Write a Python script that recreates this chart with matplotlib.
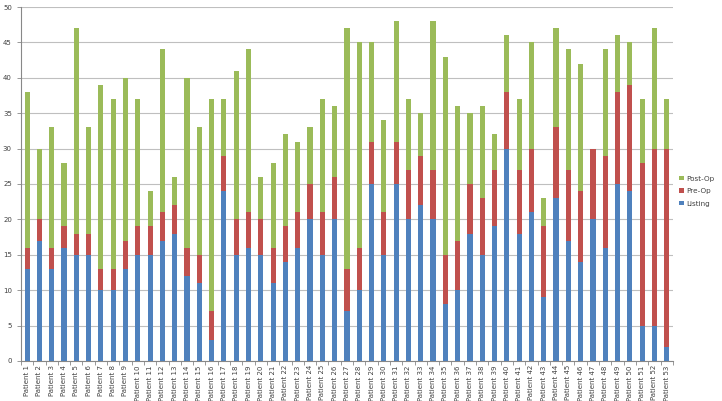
import matplotlib.pyplot as plt
import numpy as np

patients = [f"Patient {i}" for i in range(1, 54)]

# listing level, pre-op top, overall top
listing = [13, 17, 13, 16, 15, 15, 10, 10, 13, 15, 15, 17, 18, 12, 11, 3, 24, 15, 16, 15,
           11, 14, 16, 20, 15, 20, 7, 10, 25, 15, 25, 20, 22, 20, 8, 10, 18, 15, 19, 30,
           18, 21, 9, 23, 17, 14, 20, 16, 25, 24, 5, 5, 2]
preop_top = [16, 20, 16, 19, 18, 18, 13, 13, 17, 19, 19, 21, 22, 16, 15, 7, 29, 20, 21, 20,
             16, 19, 21, 25, 21, 26, 13, 16, 31, 21, 31, 27, 29, 27, 15, 17, 25, 23, 27, 38,
             27, 30, 19, 33, 27, 24, 30, 29, 38, 39, 28, 30, 30]
total = [38, 30, 33, 28, 47, 33, 39, 37, 40, 37, 24, 44, 26, 40, 33, 37, 37, 41, 44, 26,
         28, 32, 31, 33, 37, 36, 47, 45, 45, 34, 48, 37, 35, 48, 43, 36, 35, 36, 32, 46,
         37, 45, 23, 47, 44, 42, 30, 44, 46, 45, 37, 47, 37]

listing = np.array(listing)
preop = np.array(preop_top) - listing
postop = np.array(total) - np.array(preop_top)

fig = plt.figure(figsize=(7.22, 4.01), dpi=100)
ax = fig.add_axes([0.029, 0.0998, 0.903, 0.8827])

x = np.arange(len(patients))
w = 0.42
b1 = ax.bar(x, listing, w, color="#4F81BD", label="Listing", zorder=3)
b2 = ax.bar(x, preop, w, bottom=listing, color="#C0504D", label="Pre-Op", zorder=3)
b3 = ax.bar(x, postop, w, bottom=listing + preop, color="#9BBB59", label="Post-Op", zorder=3)

ax.set_ylim(0, 50)
ax.set_xlim(-0.5, len(patients) - 0.5)
ax.set_yticks(range(0, 51, 5))
ax.yaxis.grid(True, color="#bfbfbf", linewidth=0.8, zorder=0)
ax.set_xticks(x)
ax.set_xticks(np.arange(-0.5, len(patients), 1), minor=True)
ax.set_xticklabels(patients, rotation=90, fontsize=5.0, color="#404040")
ax.tick_params(axis="y", labelsize=5.0, labelcolor="#404040", length=3, color="#888888", width=0.6)
ax.tick_params(axis="x", which="major", length=0, pad=3)
ax.tick_params(axis="x", which="minor", length=3, color="#888888", width=0.6)
for s in ["top", "right"]:
    ax.spines[s].set_visible(False)
for s in ["left", "bottom"]:
    ax.spines[s].set_color("#888888")
    ax.spines[s].set_linewidth(0.8)

ax.legend(handles=[b3, b2, b1], loc="center left", bbox_to_anchor=(1.0, 0.48),
          frameon=False, fontsize=5.2, handlelength=0.6, handleheight=0.6,
          handletextpad=0.4, labelspacing=0.9, labelcolor="#404040")

fig.savefig("out.png", dpi=100)
